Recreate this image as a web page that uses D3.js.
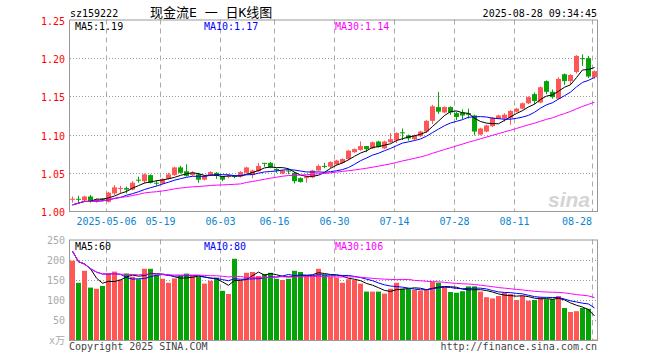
<!DOCTYPE html>
<html>
<head>
<meta charset="utf-8">
<script src="https://cdn.jsdelivr.net/npm/d3@7"></script>
<style>
body { margin: 0; background: #fff; }
text { font-family: "DejaVu Sans Mono", "Noto Sans CJK SC", monospace; font-size: 10px; }
</style>
</head>
<body>
<div id="chart"></div>
<script>
const dates = [
    "2025-04-23", "2025-04-24", "2025-04-25", "2025-04-28", "2025-04-29", "2025-04-30",
    "2025-05-06", "2025-05-07", "2025-05-08", "2025-05-09", "2025-05-12", "2025-05-13",
    "2025-05-14", "2025-05-15", "2025-05-16", "2025-05-19", "2025-05-20", "2025-05-21",
    "2025-05-22", "2025-05-23", "2025-05-26", "2025-05-27", "2025-05-28", "2025-05-29",
    "2025-05-30", "2025-06-03", "2025-06-04", "2025-06-05", "2025-06-06", "2025-06-09",
    "2025-06-10", "2025-06-11", "2025-06-12", "2025-06-13", "2025-06-16", "2025-06-17",
    "2025-06-18", "2025-06-19", "2025-06-20", "2025-06-23", "2025-06-24", "2025-06-25",
    "2025-06-26", "2025-06-27", "2025-06-30", "2025-07-01", "2025-07-02", "2025-07-03",
    "2025-07-04", "2025-07-07", "2025-07-08", "2025-07-09", "2025-07-10", "2025-07-11",
    "2025-07-14", "2025-07-15", "2025-07-16", "2025-07-17", "2025-07-18", "2025-07-21",
    "2025-07-22", "2025-07-23", "2025-07-24", "2025-07-25", "2025-07-28", "2025-07-29",
    "2025-07-30", "2025-07-31", "2025-08-01", "2025-08-04", "2025-08-05", "2025-08-06",
    "2025-08-07", "2025-08-08", "2025-08-11", "2025-08-12", "2025-08-13", "2025-08-14",
    "2025-08-15", "2025-08-18", "2025-08-19", "2025-08-20", "2025-08-21", "2025-08-22",
    "2025-08-25", "2025-08-26", "2025-08-27", "2025-08-28"
];

const open = [
    1.015, 1.016, 1.014, 1.019, 1.012, 1.016, 1.012, 1.023, 1.029, 1.030,
    1.028, 1.041, 1.039, 1.047, 1.037, 1.036, 1.042, 1.047, 1.057, 1.052,
    1.047, 1.048, 1.041, 1.047, 1.050, 1.045, 1.045, 1.046, 1.045, 1.050,
    1.047, 1.052, 1.063, 1.063, 1.055, 1.049, 1.053, 1.050, 1.043, 1.043,
    1.044, 1.053, 1.059, 1.058, 1.061, 1.063, 1.068, 1.077, 1.080, 1.085,
    1.082, 1.091, 1.082, 1.090, 1.093, 1.103, 1.099, 1.094, 1.098, 1.104,
    1.118, 1.136, 1.129, 1.136, 1.128, 1.129, 1.128, 1.125, 1.100, 1.104,
    1.111, 1.121, 1.121, 1.122, 1.130, 1.134, 1.141, 1.153, 1.142, 1.170,
    1.156, 1.147, 1.179, 1.170, 1.182, 1.200, 1.200, 1.175
];
const close = [
    1.016, 1.015, 1.019, 1.013, 1.015, 1.015, 1.024, 1.031, 1.030, 1.028,
    1.037, 1.040, 1.048, 1.037, 1.036, 1.042, 1.048, 1.057, 1.050, 1.046,
    1.050, 1.041, 1.046, 1.051, 1.046, 1.041, 1.046, 1.045, 1.051, 1.057,
    1.053, 1.059, 1.062, 1.057, 1.053, 1.053, 1.052, 1.039, 1.038, 1.045,
    1.053, 1.059, 1.058, 1.064, 1.066, 1.068, 1.079, 1.081, 1.085, 1.081,
    1.090, 1.084, 1.091, 1.094, 1.102, 1.102, 1.095, 1.099, 1.104, 1.118,
    1.137, 1.130, 1.136, 1.129, 1.123, 1.125, 1.126, 1.104, 1.108, 1.112,
    1.122, 1.125, 1.126, 1.131, 1.134, 1.141, 1.149, 1.144, 1.162, 1.156,
    1.149, 1.173, 1.170, 1.178, 1.203, 1.199, 1.176, 1.183
];
const high = [
    1.019, 1.020, 1.020, 1.021, 1.016, 1.017, 1.025, 1.034, 1.033, 1.032,
    1.039, 1.045, 1.049, 1.048, 1.040, 1.043, 1.050, 1.058, 1.059, 1.061,
    1.052, 1.050, 1.047, 1.052, 1.051, 1.046, 1.048, 1.047, 1.052, 1.058,
    1.054, 1.063, 1.063, 1.064, 1.056, 1.054, 1.055, 1.051, 1.044, 1.046,
    1.054, 1.061, 1.063, 1.065, 1.067, 1.069, 1.080, 1.082, 1.091, 1.085,
    1.091, 1.092, 1.092, 1.102, 1.103, 1.108, 1.100, 1.100, 1.105, 1.119,
    1.139, 1.156, 1.137, 1.137, 1.130, 1.133, 1.134, 1.126, 1.109, 1.113,
    1.123, 1.126, 1.128, 1.132, 1.135, 1.142, 1.150, 1.155, 1.163, 1.171,
    1.159, 1.175, 1.180, 1.179, 1.204, 1.205, 1.203, 1.184
];
const low = [
    1.011, 1.011, 1.012, 1.011, 1.011, 1.013, 1.011, 1.021, 1.023, 1.023,
    1.027, 1.037, 1.036, 1.036, 1.033, 1.035, 1.041, 1.046, 1.049, 1.045,
    1.046, 1.037, 1.040, 1.046, 1.042, 1.039, 1.043, 1.043, 1.044, 1.049,
    1.043, 1.051, 1.058, 1.056, 1.050, 1.048, 1.048, 1.036, 1.037, 1.037,
    1.043, 1.052, 1.056, 1.056, 1.060, 1.062, 1.067, 1.076, 1.079, 1.077,
    1.081, 1.083, 1.081, 1.089, 1.089, 1.093, 1.092, 1.093, 1.097, 1.102,
    1.114, 1.127, 1.128, 1.126, 1.119, 1.120, 1.121, 1.099, 1.099, 1.103,
    1.110, 1.120, 1.117, 1.113, 1.129, 1.133, 1.140, 1.140, 1.141, 1.153,
    1.147, 1.146, 1.165, 1.165, 1.180, 1.190, 1.174, 1.173
];
// 成交量, 万手
const volume = [
    198, 143, 173, 131, 128, 135, 166, 171, 151, 166,
    158, 152, 178, 178, 163, 153, 143, 154, 160, 166,
    161, 158, 141, 148, 156, 123, 115, 203, 148, 168,
    170, 160, 165, 168, 153, 150, 153, 173, 170, 160,
    160, 178, 163, 158, 156, 143, 152, 150, 141, 121,
    121, 121, 116, 128, 143, 128, 128, 125, 123, 125,
    145, 143, 133, 120, 118, 122, 134, 134, 121, 107,
    104, 110, 119, 115, 100, 110, 98, 100, 107, 102,
    102, 110, 80, 70, 72, 80, 78, 1
];
// day before the first shown candle, only used for the moving averages
const prevClose = [1.000];
const prevVolume = [246];

const priceTicks = [1.00, 1.05, 1.10, 1.15, 1.20, 1.25];
const volumeTicks = [50, 100, 150, 200, 250];
const tickDates = ["2025-05-06", "2025-05-19", "2025-06-03", "2025-06-16", "2025-06-30",
    "2025-07-14", "2025-07-28", "2025-08-11", "2025-08-28"];
const tickLabels = ["2025-05-06", "05-19", "06-03", "06-16", "06-30", "07-14", "07-28", "08-11", "08-28"];

const w = 660;
const h = 360;
const left = 70;
const right = 597;
const red = "#ff5656";
const green = "#06a306";
const maColors = ["#000000", "#0000ff", "#ff00ff"];
const maDays = [5, 10, 30];

function movingAverage(prev, values, n) {
    const all = prev.concat(values);
    return values.map(function (d, i) {
        const k = i + prev.length;
        const win = all.slice(Math.max(0, k - n + 1), k + 1);
        return d3.mean(win);
    });
}

const svg = d3.select("#chart")
    .append("svg")
    .attr("width", w)
    .attr("height", h);

const x = d3.scaleBand()
    .domain(dates)
    .range([left, right])
    .paddingInner(1 / 6)
    .paddingOuter(0);

const yP = d3.scaleLinear().domain([1.00, 1.25]).range([211, 20]);
const yV = d3.scaleLinear().domain([0, 250]).range([340, 240]);

function isUp(i) {
    return close[i] >= open[i];
}

function drawGrid(y, ticks, top, bottom) {
    svg.append("g")
        .selectAll("line")
        .data(ticks.slice(1, -1))
        .enter()
        .append("line")
        .attr("x1", left)
        .attr("x2", right)
        .attr("y1", function (d) { return Math.round(y(d)) + 0.5; })
        .attr("y2", function (d) { return Math.round(y(d)) + 0.5; })
        .attr("stroke", "#999")
        .attr("stroke-dasharray", "1,2");

    svg.append("g")
        .selectAll("line")
        .data(tickDates)
        .enter()
        .append("line")
        .attr("x1", function (d) { return x(d) + 0.5; })
        .attr("x2", function (d) { return x(d) + 0.5; })
        .attr("y1", top)
        .attr("y2", bottom)
        .attr("stroke", "#aaa")
        .attr("stroke-dasharray", "5,4");

    svg.append("rect")
        .attr("x", left - 0.5)
        .attr("y", top + 0.5)
        .attr("width", right - left + 1)
        .attr("height", bottom - top)
        .attr("fill", "none")
        .attr("stroke", "#999");
}

function drawLines(values, prev, y) {
    maDays.forEach(function (n, k) {
        const ma = movingAverage(prev, values, n);
        const line = d3.line()
            .x(function (d, i) { return x(dates[i]) + 2.5; })
            .y(function (d) { return y(d); });
        svg.append("path")
            .datum(ma)
            .attr("d", line)
            .attr("fill", "none")
            .attr("stroke", maColors[k])
            .attr("stroke-width", 1);
    });
}

function drawLegend(values, prev, y, fmt) {
    const xs = [75, 204, 335];
    maDays.forEach(function (n, k) {
        const ma = movingAverage(prev, values, n);
        svg.append("text")
            .attr("x", xs[k])
            .attr("y", y)
            .attr("fill", maColors[k])
            .text("MA" + n + ":" + fmt(ma[ma.length - 1]));
    });
}

// watermark
svg.append("text")
    .attr("x", 548)
    .attr("y", 207)
    .attr("fill", "#d4d4d4")
    .style("font-family", "Liberation Sans, sans-serif")
    .style("font-size", "21px")
    .style("font-style", "italic")
    .style("font-weight", "bold")
    .text("sina");

drawGrid(yP, priceTicks, 19.5, 211);
drawGrid(yV, [0].concat(volumeTicks), 239.5, 340);

// candles
const idx = d3.range(dates.length);

svg.append("g")
    .selectAll("line")
    .data(idx)
    .enter()
    .append("line")
    .attr("x1", function (i) { return x(dates[i]) + 2.5; })
    .attr("x2", function (i) { return x(dates[i]) + 2.5; })
    .attr("y1", function (i) { return yP(high[i]); })
    .attr("y2", function (i) { return yP(low[i]); })
    .attr("stroke", function (i) { return isUp(i) ? red : green; });

svg.append("g")
    .selectAll("rect")
    .data(idx)
    .enter()
    .append("rect")
    .attr("x", function (i) { return x(dates[i]); })
    .attr("y", function (i) { return yP(Math.max(open[i], close[i])); })
    .attr("width", x.bandwidth())
    .attr("height", function (i) {
        return Math.max(1, Math.abs(yP(open[i]) - yP(close[i])));
    })
    .attr("fill", function (i) { return isUp(i) ? red : green; });

drawLines(close, prevClose, yP);

// volume bars
svg.append("g")
    .selectAll("rect")
    .data(idx)
    .enter()
    .append("rect")
    .attr("x", function (i) { return x(dates[i]); })
    .attr("y", function (i) { return yV(volume[i]); })
    .attr("width", x.bandwidth())
    .attr("height", function (i) { return yV(0) - yV(volume[i]); })
    .attr("fill", function (i) { return isUp(i) ? red : green; });

drawLines(volume, prevVolume, yV);

// axis labels
svg.append("g")
    .selectAll("text")
    .data(priceTicks)
    .enter()
    .append("text")
    .attr("x", 65)
    .attr("y", function (d) { return yP(d) + 5; })
    .attr("text-anchor", "end")
    .attr("fill", "#ff0000")
    .text(function (d) { return d.toFixed(2); });

svg.append("g")
    .selectAll("text")
    .data(volumeTicks)
    .enter()
    .append("text")
    .attr("x", 65)
    .attr("y", function (d) { return yV(d) + 4; })
    .attr("text-anchor", "end")
    .attr("fill", "#aaa")
    .text(function (d) { return d; });

svg.append("text")
    .attr("x", 65)
    .attr("y", 344)
    .attr("text-anchor", "end")
    .attr("fill", "#aaa")
    .text("x万");

svg.append("g")
    .selectAll("text")
    .data(tickDates)
    .enter()
    .append("text")
    .attr("x", function (d, i) { return i === tickDates.length - 1 ? x(d) : x(d) + 0.5; })
    .attr("y", 225)
    .attr("text-anchor", function (d, i) { return i === tickDates.length - 1 ? "end" : "middle"; })
    .attr("fill", "#0a86d0")
    .text(function (d, i) { return tickLabels[i]; });

// header
svg.append("text").attr("x", 70).attr("y", 17).attr("fill", "#000").text("sz159222");
svg.append("text").attr("x", 150).attr("y", 17).attr("fill", "#000")
    .style("font-size", "13px").text("现金流E 一 日K线图");
svg.append("text").attr("x", right).attr("y", 17).attr("text-anchor", "end")
    .attr("fill", "#000").text("2025-08-28 09:34:45");

drawLegend(close, prevClose, 30, function (v) { return v.toFixed(2); });
drawLegend(volume, prevVolume, 250, function (v) { return Math.round(v); });

svg.append("text").attr("x", 69).attr("y", 350).attr("fill", "#444").text("Copyright 2025 SINA.COM");
svg.append("text").attr("x", right).attr("y", 350).attr("text-anchor", "end")
    .attr("fill", "#444").text("http://finance.sina.com.cn");
</script>
</body>
</html>
